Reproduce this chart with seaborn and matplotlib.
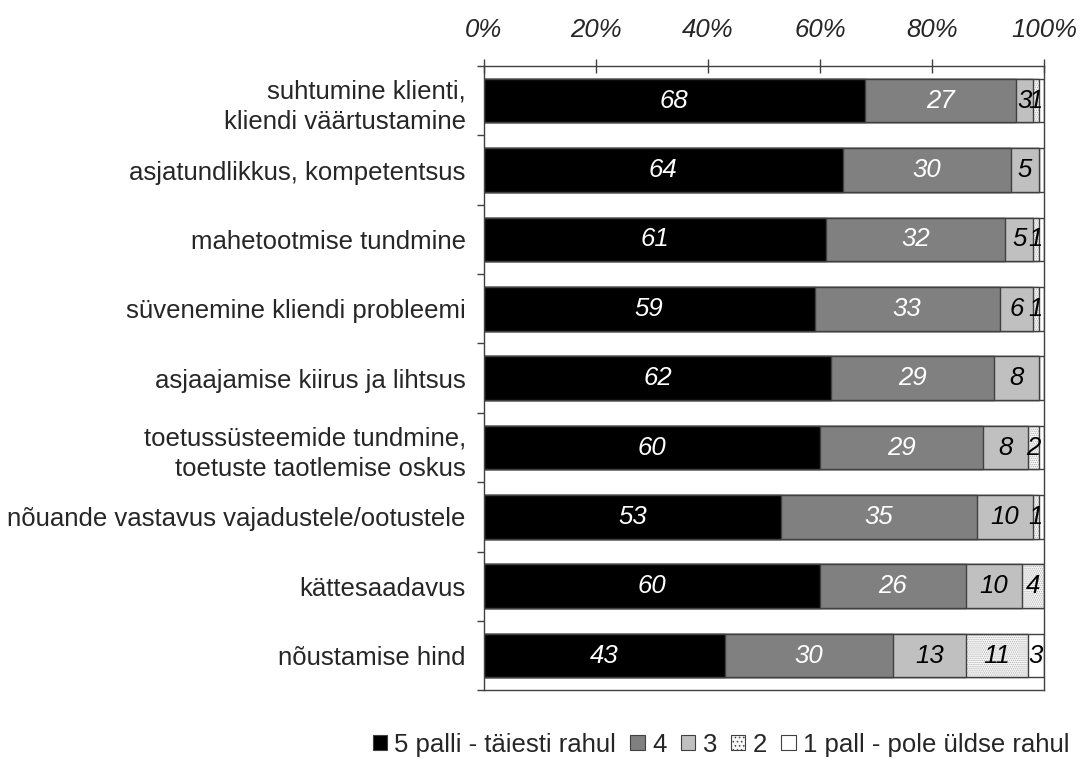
import numpy as np
import pandas as pd
import matplotlib
matplotlib.use("Agg")
import matplotlib.pyplot as plt
from matplotlib.patches import Patch
import seaborn as sns

categories = [
    "suhtumine klienti,\nkliendi väärtustamine",
    "asjatundlikkus, kompetentsus",
    "mahetootmise tundmine",
    "süvenemine kliendi probleemi",
    "asjaajamise kiirus ja lihtsus",
    "toetussüsteemide tundmine,\ntoetuste taotlemise oskus",
    "nõuande vastavus vajadustele/ootustele",
    "kättesaadavus",
    "nõustamise hind",
]
s5 = [68, 64, 61, 59, 62, 60, 53, 60, 43]
s4 = [27, 30, 32, 33, 29, 29, 35, 26, 30]
s3 = [3, 5, 5, 6, 8, 8, 10, 10, 13]
s2 = [1, 0, 1, 1, 0, 2, 1, 4, 11]
s1 = [1, 1, 1, 1, 1, 1, 1, 0, 3]
series_names = ["5 palli - täiesti rahul", "4", "3", "2", "1 pall - pole üldse rahul"]
x_ticks = [0, 20, 40, 60, 80, 100]

sns.set_theme(style="white")
plt.rcParams["font.family"] = ["Liberation Sans", "DejaVu Sans"]
plt.rcParams["hatch.linewidth"] = 0.6

FS = 18.5

fig = plt.figure(figsize=(10.8, 7.67), dpi=100)
ax = fig.add_axes([0.448, 0.100, 0.519, 0.814])

df = pd.DataFrame({"cat": categories, "s5": s5, "s4": s4, "s3": s3, "s2": s2, "s1": s1})
cols = ["s5", "s4", "s3", "s2", "s1"]
cum = df[cols].cumsum(axis=1)

edge = "#404040"
bw = 0.63
faces = ["#000000", "#808080", "#c0c0c0", "#f7f7f7", "#ffffff"]

# draw from the largest cumulative total to smallest
for i in reversed(range(5)):
    c = cols[i]
    if i == 3:
        sns.barplot(x=cum[c], y=df["cat"], orient="h", color=faces[i], width=bw,
                    edgecolor="#b0b0b0", linewidth=0, hatch="........", ax=ax, saturation=1)
        sns.barplot(x=cum[c], y=df["cat"], orient="h", fill=False, width=bw,
                    edgecolor=edge, linewidth=1.0, ax=ax)
    else:
        sns.barplot(x=cum[c], y=df["cat"], orient="h", color=faces[i], width=bw,
                    edgecolor=edge, linewidth=1.0, ax=ax, saturation=1)

# value labels
for r in range(len(categories)):
    left = 0
    for i, c in enumerate(cols):
        v = df.loc[r, c]
        if v > 0 and not (i == 4 and v < 2):
            color = "white" if i < 2 else "black"
            ax.text(left + v / 2, r, f"{v}", ha="center", va="center", color=color,
                    fontsize=FS, style="italic")
        left += v

ax.set_xlim(0, 100)
ax.set_ylim(8.5, -0.5)
ax.set_xlabel("")
ax.set_ylabel("")
ax.xaxis.tick_top()
ax.set_xticks(x_ticks)
ax.set_xticklabels([f"{t}%" for t in x_ticks], fontsize=FS, style="italic")
ax.tick_params(axis="x", which="major", direction="inout", length=10, width=1,
               color=edge, pad=12, top=True, bottom=False)
ax.set_yticks(range(len(categories)))
ax.set_yticklabels(categories, fontsize=FS, ha="right")
ax.tick_params(axis="y", which="major", length=0, pad=13)
ax.set_yticks(np.arange(-0.5, 9.0, 1.0), minor=True)
ax.tick_params(axis="y", which="minor", direction="out", length=5, width=1, color=edge, left=True)
for lbl in ax.get_yticklabels():
    lbl.set_multialignment("right")
    lbl.set_linespacing(1.35)
for sp in ax.spines.values():
    sp.set_visible(True)
    sp.set_color(edge)
    sp.set_linewidth(1.0)

handles = [
    Patch(facecolor=faces[0], edgecolor=edge, linewidth=0.8),
    Patch(facecolor=faces[1], edgecolor=edge, linewidth=0.8),
    Patch(facecolor=faces[2], edgecolor=edge, linewidth=0.8),
    Patch(facecolor=faces[3], edgecolor=edge, linewidth=0.8, hatch="...."),
    Patch(facecolor=faces[4], edgecolor=edge, linewidth=0.8),
]
fig.legend(handles, series_names, loc="lower right", bbox_to_anchor=(1.0, 0.0),
           ncol=5, frameon=False, fontsize=FS, handlelength=0.55, handleheight=0.55,
           handletextpad=0.3, columnspacing=0.55, borderaxespad=0.1,
           borderpad=0.3)

fig.savefig("out.png", dpi=100)
